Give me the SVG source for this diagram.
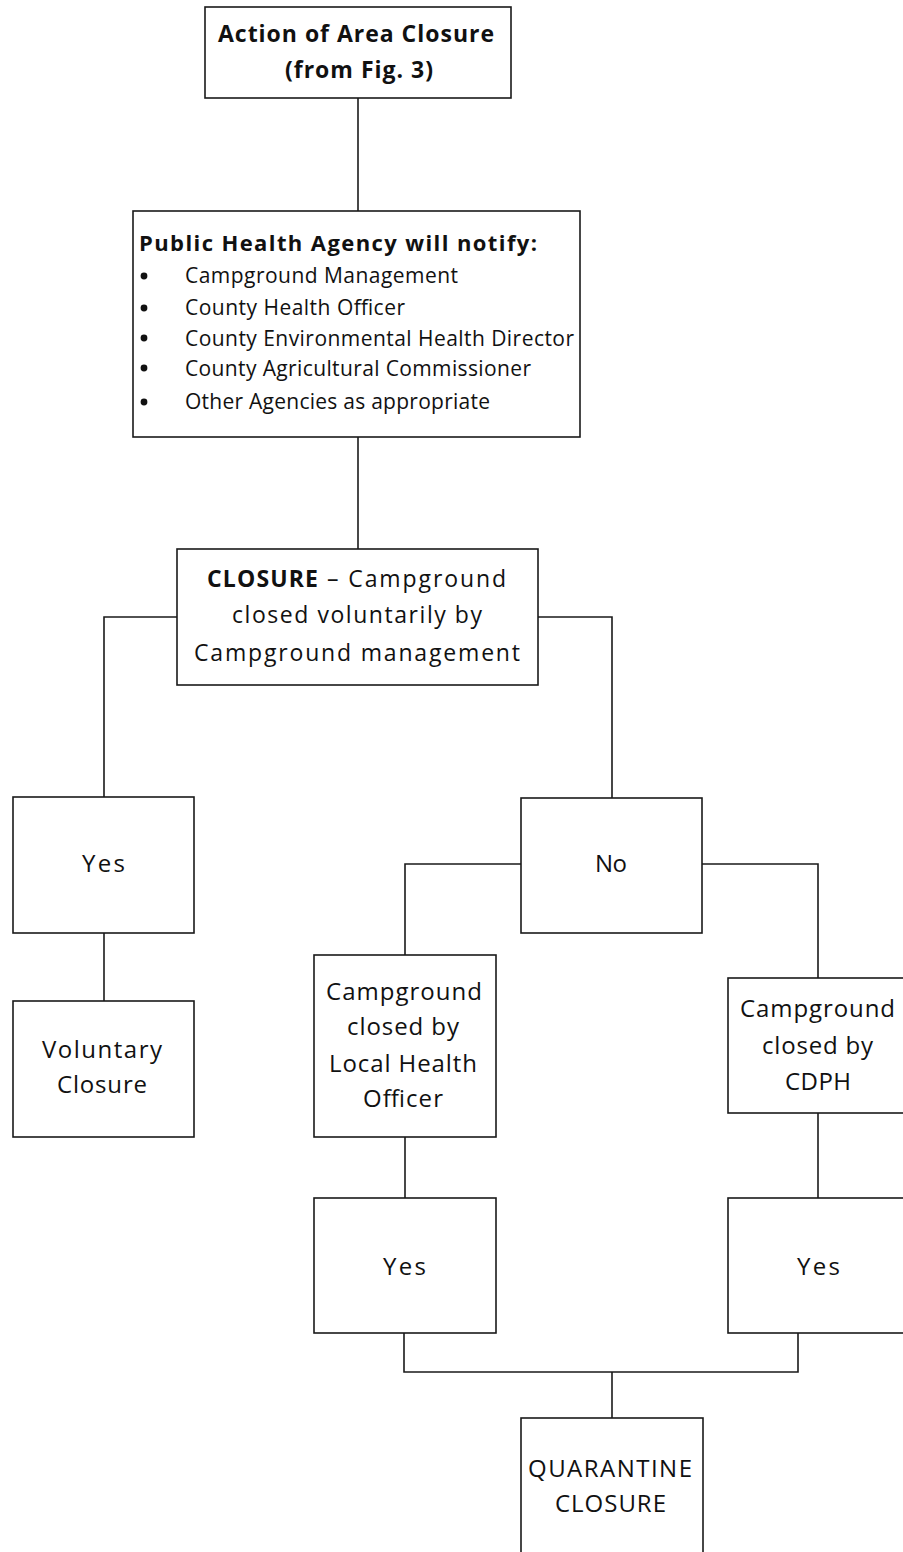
<svg xmlns="http://www.w3.org/2000/svg" width="903" height="1552" viewBox="0 0 903 1552">
<style>
.box{fill:#fff;stroke:#1a1a1a;stroke-width:1.6}
.ln{fill:none;stroke:#1a1a1a;stroke-width:1.6}
text{font-family:"Open Sans","Noto Sans","Liberation Sans",sans-serif;font-size:21px;fill:#111}
.b{font-weight:bold}
.t{font-size:23px;font-weight:bold}
.h{font-size:22px;font-weight:bold}
.c{font-size:23px}
.m{font-size:24px}
</style>
<rect width="903" height="1552" fill="#fff"/>
<g id="connectors">
<path class="ln" d="M358,98V211"/>
<path class="ln" d="M358,437V549"/>
<path class="ln" d="M177,617H104V797"/>
<path class="ln" d="M538,617H612V798"/>
<path class="ln" d="M521,864H405V955"/>
<path class="ln" d="M702,864H818V978"/>
<path class="ln" d="M104,933V1001"/>
<path class="ln" d="M405,1137V1198"/>
<path class="ln" d="M818,1113V1198"/>
<path class="ln" d="M404,1333V1372H798V1333"/>
<path class="ln" d="M612,1372V1418"/>
</g>
<g id="n-action">
<rect class="box" x="205" y="7" width="306" height="91"/>
<text class="t" x="218" y="42" textLength="276">Action of Area Closure</text>
<text class="t" x="285" y="78" textLength="148">(from Fig. 3)</text>
</g>
<g id="n-notify">
<rect class="box" x="133" y="211" width="447" height="226"/>
<text class="h" x="139" y="251" textLength="398">Public Health Agency will notify:</text>
<circle cx="144" cy="276" r="3.4" fill="#111"/>
<circle cx="144" cy="308" r="3.4" fill="#111"/>
<circle cx="144" cy="338" r="3.4" fill="#111"/>
<circle cx="144" cy="368" r="3.4" fill="#111"/>
<circle cx="144" cy="402" r="3.4" fill="#111"/>
<text x="185" y="283" textLength="273">Campground Management</text>
<text x="185" y="315" textLength="220">County Health Officer</text>
<text x="185" y="346" textLength="389">County Environmental Health Director</text>
<text x="185" y="376" textLength="346">County Agricultural Commissioner</text>
<text x="185" y="409" textLength="305">Other Agencies as appropriate</text>
</g>
<g id="n-closure">
<rect class="box" x="177" y="549" width="361" height="136"/>
<text class="c b" x="207" y="587" textLength="111">CLOSURE</text>
<text class="c" x="327" y="587" textLength="179">– Campground</text>
<text class="c" x="232" y="623" textLength="250">closed voluntarily by</text>
<text class="c" x="194" y="661" textLength="326">Campground management</text>
</g>
<g id="n-yes1">
<rect class="box" x="13" y="797" width="181" height="136"/>
<text class="m" x="82" y="872" textLength="43">Yes</text>
</g>
<g id="n-no">
<rect class="box" x="521" y="798" width="181" height="135"/>
<text class="m" x="595" y="872" textLength="32">No</text>
</g>
<g id="n-voluntary">
<rect class="box" x="13" y="1001" width="181" height="136"/>
<text class="m" x="42" y="1058" textLength="120">Voluntary</text>
<text class="m" x="57" y="1093" textLength="90">Closure</text>
</g>
<g id="n-local">
<rect class="box" x="314" y="955" width="182" height="182"/>
<text class="m" x="326" y="1000" textLength="156">Campground</text>
<text class="m" x="347" y="1035" textLength="112">closed by</text>
<text class="m" x="329" y="1072" textLength="148">Local Health</text>
<text class="m" x="363" y="1107" textLength="80">Officer</text>
</g>
<g id="n-cdph">
<rect class="box" x="728" y="978" width="182" height="135"/>
<text class="m" x="740" y="1017" textLength="155">Campground</text>
<text class="m" x="762" y="1054" textLength="111">closed by</text>
<text class="m" x="785" y="1090" textLength="66">CDPH</text>
</g>
<g id="n-yes2">
<rect class="box" x="314" y="1198" width="182" height="135"/>
<text class="m" x="383" y="1275" textLength="43">Yes</text>
</g>
<g id="n-yes3">
<rect class="box" x="728" y="1198" width="182" height="135"/>
<text class="m" x="797" y="1275" textLength="43">Yes</text>
</g>
<g id="n-quarantine">
<rect class="box" x="521" y="1418" width="182" height="150"/>
<text class="m" x="528" y="1477" textLength="164">QUARANTINE</text>
<text class="m" x="555" y="1512" textLength="111">CLOSURE</text>
</g>
</svg>
